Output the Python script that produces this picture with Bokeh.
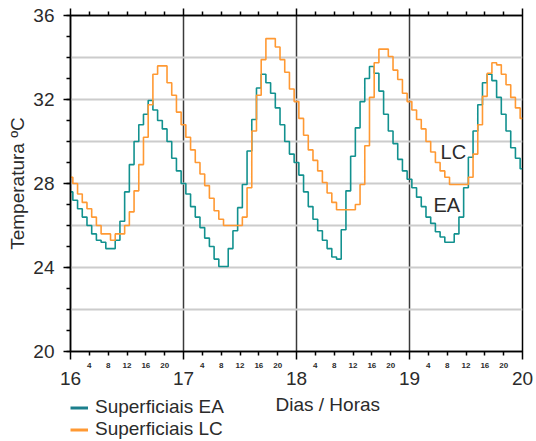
from bokeh.plotting import figure
from bokeh.layouts import column
from bokeh.models import Range1d, LinearAxis, FixedTicker, Legend, LegendItem, Label
from bokeh.embed import file_html
from bokeh.resources import INLINE

# ---- data (hourly readings, hour 0 = day 16 00h) ----
HOURS = list(range(97))
EA = [27.6, 27.2, 26.8, 26.4, 26.0, 25.6, 25.3, 25.2, 24.9, 24.9, 25.3, 26.2,
      27.6, 28.9, 30.0, 30.8, 31.3, 31.95, 31.5, 31.0, 30.6, 30.0, 29.2, 28.6,
      28.0, 27.5, 26.9, 26.4, 25.9, 25.4, 25.0, 24.4, 24.05, 24.05, 24.9, 25.75,
      26.85, 27.95, 29.55, 31.05, 32.55, 33.2, 32.8, 32.3, 31.6, 30.8, 30.0, 29.4,
      29.0, 28.4, 27.6, 26.9, 26.3, 25.75, 25.3, 24.9, 24.5, 24.4, 25.8, 27.65,
      29.3, 30.65, 31.9, 33.0, 33.57, 33.25, 32.4, 31.3, 30.5, 29.9, 29.15, 28.6,
      28.2, 27.8, 27.35, 26.9, 26.4, 26.1, 25.7, 25.45, 25.2, 25.2, 25.6, 26.4,
      27.8, 29.25, 30.5, 31.75, 32.8, 33.2, 32.9, 32.1, 31.3, 30.5, 29.7, 29.2,
      28.7]
LC = [28.3, 28.0, 27.5, 27.1, 26.8, 26.4, 26.0, 25.6, 25.6, 25.3, 25.6, 25.6,
      26.0, 26.65, 27.65, 28.9, 30.2, 31.75, 33.2, 33.6, 33.6, 32.8, 32.2, 31.4,
      30.8, 30.2, 29.6, 29.0, 28.45, 27.9, 27.3, 26.7, 26.3, 26.0, 26.0, 26.0,
      26.0, 26.4, 27.8, 30.5, 32.2, 33.9, 34.9, 34.9, 34.5, 33.9, 33.3, 32.5,
      31.9, 31.1, 30.3, 29.6, 29.1, 28.6, 28.05, 27.55, 27.1, 26.75, 26.75, 26.75,
      26.75, 27.0, 27.95, 29.8, 32.1, 33.75, 34.4, 34.4, 34.05, 33.4, 32.95, 32.3,
      31.9, 31.5, 31.05, 30.6, 30.0, 29.5, 29.0, 28.6, 28.3, 27.95, 27.95, 27.95,
      27.95, 28.3, 29.4, 30.8, 32.15, 33.25, 33.75, 33.65, 33.2, 32.7, 32.1, 31.6,
      31.1]

DAY_TICKS = [0, 24, 48, 72, 96]
DAY_LABELS = ["16", "17", "18", "19", "20"]
HOUR_TICKS = [h for h in range(4, 96, 4) if h % 24]
HOUR_LABELS = [str(h % 24) for h in HOUR_TICKS]
Y_MAJOR = [20, 24, 28, 32, 36]
Y_MINOR = list(range(20, 37))
Y_GRID = [22, 24, 26, 28, 30, 32, 34]
DAY_LINES = [24, 48, 72]
SERIES_NAMES = ["Superficiais EA", "Superficiais LC"]

FONT = "Liberation Sans"
TEXT = "#2b2b2b"
TEAL = "#12918f"
TEAL_KEY = "#1b7f8c"
ORANGE = "#ff9933"

p = figure(width=536, height=395, output_backend="svg", toolbar_location=None,
           x_range=Range1d(0, 96), y_range=Range1d(20, 36),
           min_border_left=70, min_border_right=14, min_border_top=15,
           min_border_bottom=44)
p.background_fill_color = "white"
p.border_fill_color = "white"
p.outline_line_color = "black"
p.outline_line_width = 1.5

# grids
p.xgrid.ticker = FixedTicker(ticks=DAY_LINES)
p.xgrid.grid_line_color = "#3a3a3a"
p.xgrid.grid_line_width = 1.5
p.ygrid.ticker = FixedTicker(ticks=Y_GRID)
p.ygrid.grid_line_color = "#cccccc"
p.ygrid.grid_line_width = 2

# bottom hour axis
xa = p.xaxis[0]
xa.ticker = FixedTicker(ticks=HOUR_TICKS, minor_ticks=DAY_TICKS)
xa.major_label_overrides = {t: l for t, l in zip(HOUR_TICKS, HOUR_LABELS)}
xa.major_tick_out = 4
xa.major_tick_in = 0
xa.minor_tick_out = 8
xa.minor_tick_in = 0
xa.major_label_standoff = 3
xa.major_label_text_font = FONT
xa.major_label_text_font_size = "8px"
xa.major_label_text_font_style = "bold"
xa.major_label_text_color = TEXT
xa.axis_line_width = 1.5
xa.major_tick_line_width = 1.5
xa.minor_tick_line_width = 1.5

# bottom day axis
da = LinearAxis(ticker=FixedTicker(ticks=DAY_TICKS),
                major_label_overrides={t: l for t, l in zip(DAY_TICKS, DAY_LABELS)},
                major_tick_out=0, major_tick_in=0, minor_tick_out=0, minor_tick_in=0,
                axis_line_color=None, major_tick_line_color=None,
                minor_tick_line_color=None, major_label_standoff=1,
                major_label_text_font=FONT, major_label_text_font_size="19px",
                major_label_text_color=TEXT)
p.add_layout(da, "below")

# top axis (ticks only)
ta = LinearAxis(ticker=FixedTicker(ticks=HOUR_TICKS, minor_ticks=DAY_TICKS),
                major_tick_out=4, major_tick_in=0, minor_tick_out=7, minor_tick_in=0,
                major_label_standoff=0, major_label_text_font_size="0px",
                major_label_text_color=None,
                axis_line_width=1.5, major_tick_line_width=1.5,
                minor_tick_line_width=1.5)
p.add_layout(ta, "above")

# left axis
ya = p.yaxis[0]
ya.ticker = FixedTicker(ticks=Y_MAJOR, minor_ticks=Y_MINOR)
ya.major_tick_out = 7
ya.major_tick_in = 0
ya.minor_tick_out = 4
ya.minor_tick_in = 0
ya.major_label_standoff = 9
ya.major_label_text_font = FONT
ya.major_label_text_font_size = "19px"
ya.major_label_text_color = TEXT
ya.axis_label = "Temperatura ºC"
ya.axis_label_text_font = FONT
ya.axis_label_text_font_size = "19px"
ya.axis_label_text_font_style = "normal"
ya.axis_label_text_color = TEXT
ya.axis_label_standoff = 2
ya.axis_line_width = 1.5
ya.major_tick_line_width = 1.5
ya.minor_tick_line_width = 1.5

# series
p.step(HOURS, EA, mode="center", line_color=TEAL, line_width=1.6)
p.step(HOURS, LC, mode="center", line_color=ORANGE, line_width=1.6)

# annotations inside the frame
p.add_layout(Label(x=78.6, y=29.0, text="LC", text_font=FONT,
                   text_font_size="20px", text_color=TEXT))
p.add_layout(Label(x=77.1, y=26.46, text="EA", text_font=FONT,
                   text_font_size="20px", text_color=TEXT))

# ---- strip below with legend and x-axis title ----
q = figure(width=536, height=46, output_backend="svg", toolbar_location=None,
           x_range=Range1d(0, 1), y_range=Range1d(0, 1),
           x_axis_location=None, y_axis_location=None,
           min_border_left=0, min_border_right=0, min_border_top=0,
           min_border_bottom=0)
q.grid.visible = False
q.outline_line_color = None
q.background_fill_color = "white"
q.border_fill_color = "white"

r1 = q.step(HOURS, EA, mode="center", line_color=TEAL_KEY, line_width=3, visible=False)
r2 = q.step(HOURS, LC, mode="center", line_color=ORANGE, line_width=3, visible=False)
legend = Legend(items=[LegendItem(label=SERIES_NAMES[0], renderers=[r1]),
                       LegendItem(label=SERIES_NAMES[1], renderers=[r2])],
                location=(0, 1), padding=0, margin=0, spacing=0,
                label_height=21, glyph_height=21, glyph_width=18,
                label_standoff=7, border_line_color=None,
                background_fill_alpha=0, inactive_fill_alpha=0,
                label_text_font=FONT,
                label_text_font_size="19px", label_text_color=TEXT)
q.add_layout(legend)
q.add_layout(Label(x=205, y=27, x_units="screen", y_units="screen",
                   text="Dias / Horas", text_font=FONT,
                   text_font_size="19px", text_color=TEXT))

layout = column(p, q, spacing=0)
open("out.html", "w").write(file_html(layout, INLINE))
